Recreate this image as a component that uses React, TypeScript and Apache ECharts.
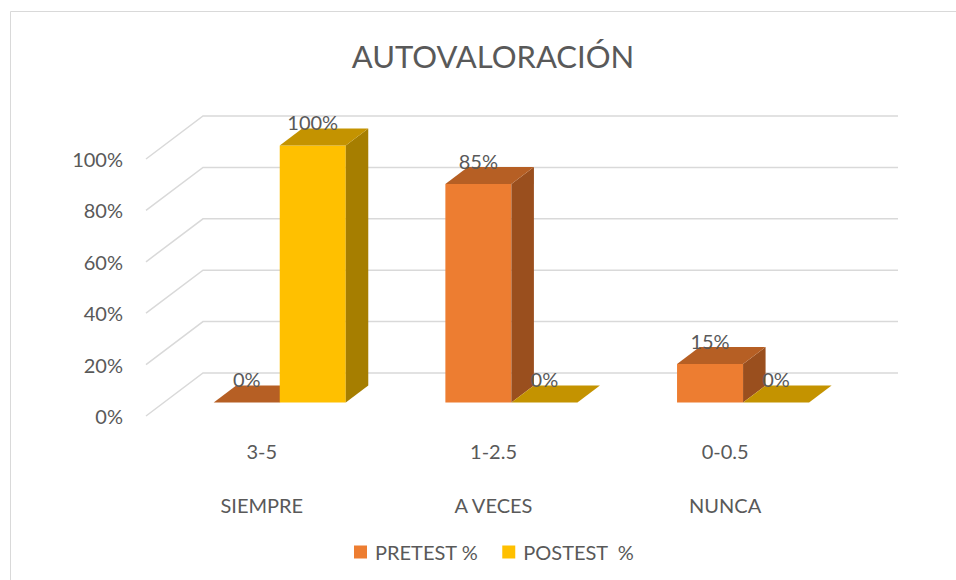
import React, { useEffect, useRef } from "react";
import * as echarts from "echarts";

const categories = ["3-5", "1-2.5", "0-0.5"];
const groupNames = ["SIEMPRE", "A VECES", "NUNCA"];
const seriesNames = ["PRETEST %", "POSTEST  %"];
const pretest = [0, 85, 15];
const postest = [100, 0, 0];
const yTicks = [0, 20, 40, 60, 80, 100];

const FONT = "Lato";
const TEXT = "#595959";
// oblique depth of the floor (px)
const DEPTH_X = 57;
const DEPTH_Y = -43;
const BAR_FRONT = 0.314;
const BAR_BACK = 0.709;
const BAR_W = 0.285;

const palette = [
  { front: "#ED7D31", top: "#B65F24", side: "#9A4F1E" },
  { front: "#FFC000", top: "#C49300", side: "#A67E00" },
];

function makeBarRenderer(si: number) {
  return (params: any, api: any) => {
    const idx = api.value(0);
    const val = api.value(1);
    const c0 = api.coord([idx, 0]);
    const c1 = api.coord([idx, val]);
    const cw = api.size([1, 0])[0];
    const bw = cw * BAR_W;
    const sx = DEPTH_X * BAR_FRONT;
    const sy = DEPTH_Y * BAR_FRONT;
    const dx = DEPTH_X * (BAR_BACK - BAR_FRONT);
    const dy = DEPTH_Y * (BAR_BACK - BAR_FRONT);
    const left = c0[0] + sx + (si === 0 ? -bw : 0);
    const right = left + bw;
    const bottom = c0[1] + sy;
    const top = c1[1] + sy;
    const col = palette[si];
    const children: any[] = [];
    if (val > 0) {
      children.push({
        type: "polygon",
        shape: { points: [[left, top], [right, top], [right, bottom], [left, bottom]] },
        style: { fill: col.front },
      });
      children.push({
        type: "polygon",
        shape: { points: [[right, top], [right + dx, top + dy], [right + dx, bottom + dy], [right, bottom]] },
        style: { fill: col.side },
      });
    }
    children.push({
      type: "polygon",
      shape: { points: [[left, top], [left + dx, top + dy], [right + dx, top + dy], [right, top]] },
      style: { fill: col.top },
    });
    children.push({
      type: "text",
      style: {
        text: `${val}%`,
        x: (left + right) / 2,
        y: top - 23,
        align: "center",
        verticalAlign: "middle",
        fontSize: 20,
        fontFamily: FONT,
        fill: TEXT,
      },
    });
    return { type: "group", children };
  };
}

function gridRenderer(params: any, api: any) {
  const v = api.value(1);
  const cs = params.coordSys;
  const y = api.coord([0, v])[1];
  const x = cs.x;
  return {
    type: "polyline",
    shape: {
      points: [
        [x, y],
        [x + DEPTH_X, y + DEPTH_Y],
        [x + cs.width + DEPTH_X, y + DEPTH_Y],
      ],
    },
    style: { stroke: "#D9D9D9", lineWidth: 1.5, fill: null },
    silent: true,
  };
}

export default function App() {
  const ref = useRef<HTMLDivElement>(null);
  useEffect(() => {
    if (!ref.current) return;
    const chart = echarts.init(ref.current, null, { renderer: "svg" });
    chart.setOption({
      animation: false,
      backgroundColor: "#ffffff",
      title: {
        text: "AUTOVALORACIÓN",
        left: 488,
        textAlign: "center",
        top: 35,
        textStyle: { fontFamily: FONT, fontSize: 31, fontWeight: "normal", color: TEXT },
      },
      graphic: [
        {
          type: "rect",
          shape: { x: 10.5, y: 11.5, width: 1000, height: 700 },
          style: { fill: "none", stroke: "#D9D9D9", lineWidth: 1 },
          silent: true,
        },
      ],
      legend: {
        data: seriesNames,
        left: 349,
        top: 537,
        itemWidth: 13,
        itemHeight: 13,
        itemGap: 24,
        icon: "rect",
        textStyle: { fontFamily: FONT, fontSize: 20, color: TEXT, padding: [0, 0, 0, 3] },
      },
      grid: { left: 146, right: 115, top: 159, bottom: 164 },
      xAxis: {
        type: "category",
        data: categories,
        axisLine: { show: false },
        axisTick: { show: false },
        splitLine: { show: false },
        axisLabel: {
          margin: 21,
          fontFamily: FONT,
          fontSize: 20,
          color: TEXT,
          lineHeight: 27,
          formatter: (v: string, i: number) => `${v}\n\n${groupNames[i]}`,
        },
      },
      yAxis: {
        type: "value",
        min: 0,
        max: 100,
        interval: 20,
        axisLine: { show: false },
        axisTick: { show: false },
        splitLine: { show: false },
        axisLabel: {
          margin: 23,
          fontFamily: FONT,
          fontSize: 20,
          color: TEXT,
          formatter: "{value}%",
        },
      },
      series: [
        {
          type: "custom",
          name: "grid",
          silent: true,
          clip: false,
          z: 1,
          renderItem: gridRenderer,
          data: yTicks.map((v) => [0, v]),
          encode: { x: 0, y: 1 },
        },
        {
          type: "custom",
          name: seriesNames[0],
          clip: false,
          z: 2,
          itemStyle: { color: palette[0].front },
          renderItem: makeBarRenderer(0),
          data: pretest.map((v, i) => [i, v]),
          encode: { x: 0, y: 1 },
        },
        {
          type: "custom",
          name: seriesNames[1],
          clip: false,
          z: 3,
          itemStyle: { color: palette[1].front },
          renderItem: makeBarRenderer(1),
          data: postest.map((v, i) => [i, v]),
          encode: { x: 0, y: 1 },
        },
      ],
    });
    return () => chart.dispose();
  }, []);
  return (
    <div style={{ position: "absolute", left: 0, top: 0, width: 956, height: 580 }}>
      <div ref={ref} style={{ width: 956, height: 580 }} />
    </div>
  );
}
